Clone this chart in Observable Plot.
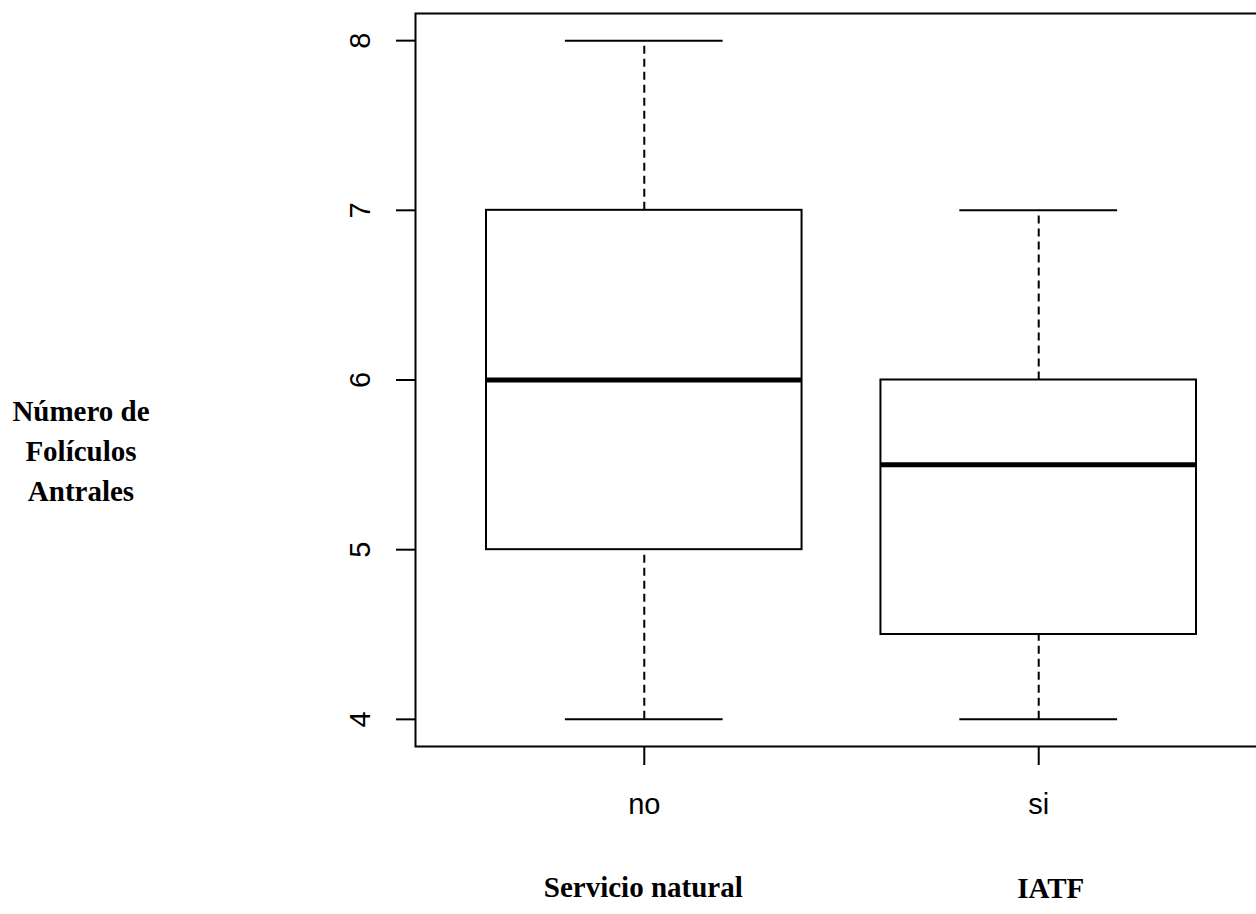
<!DOCTYPE html>
<html><head><meta charset="utf-8">
<script src="https://cdn.jsdelivr.net/npm/d3@7"></script>
<script src="https://cdn.jsdelivr.net/npm/@observablehq/plot@0.6"></script>
<style>
html,body{margin:0;padding:0;background:#fff;overflow:hidden;width:1256px;height:914px}
#wrap{position:relative;width:1256px;height:914px}
#ylab{position:absolute;left:0;top:391px;width:162px;text-align:center;font-family:"Liberation Serif","Times New Roman",serif;font-weight:bold;font-size:29px;line-height:40px;color:#000}
</style></head><body><div id="wrap"><div id="ylab">Número de<br>Folículos<br>Antrales</div></div>
<script>
const categories = ["no", "si"];
const groupLabels = ["Servicio natural", "IATF"];
const mins = [4, 4];
const q1s = [5, 4.5];
const medians = [6, 5.5];
const q3s = [7, 6];
const maxs = [8, 7];
const yTicks = [4, 5, 6, 7, 8];

const boxes = categories.map((c, i) => ({pos: i + 1, cat: c, group: groupLabels[i], min: mins[i], q1: q1s[i], median: medians[i], q3: q3s[i], max: maxs[i]}));
const boxHalf = 0.4, capHalf = 0.2;
const bx1 = d => d.pos - boxHalf, bx2 = d => d.pos + boxHalf;
const cx1 = d => d.pos - capHalf, cx2 = d => d.pos + capHalf;
const serif = '"Liberation Serif", "Times New Roman", serif';

const chart = Plot.plot({
  width: 1256, height: 914,
  marginLeft: 415, marginRight: -11, marginTop: 13, marginBottom: 168,
  style: {fontFamily: '"Liberation Sans", Arial, sans-serif', fontSize: "29px", color: "black", background: "white", overflow: "visible"},
  x: {domain: [0.42, 2.58]},
  y: {domain: [3.84, 8.16]},
  marks: [
    Plot.ruleX(boxes, {x: "pos", y1: "q3", y2: "max", stroke: "black", strokeWidth: 2, strokeDasharray: "8,5"}),
    Plot.ruleX(boxes, {x: "pos", y1: "min", y2: "q1", stroke: "black", strokeWidth: 2, strokeDasharray: "8,5"}),
    Plot.ruleY(boxes, {y: "max", x1: cx1, x2: cx2, stroke: "black", strokeWidth: 2}),
    Plot.ruleY(boxes, {y: "min", x1: cx1, x2: cx2, stroke: "black", strokeWidth: 2}),
    Plot.rect(boxes, {x1: bx1, x2: bx2, y1: "q1", y2: "q3", fill: "white", stroke: "black", strokeWidth: 2}),
    Plot.ruleY(boxes, {y: "median", x1: bx1, x2: bx2, stroke: "black", strokeWidth: 5}),
    Plot.frame({stroke: "black", strokeWidth: 2}),
    Plot.axisY({ticks: yTicks, label: null, tickSize: 19, tickRotate: -90, tickPadding: 36, textAnchor: "middle", lineAnchor: "middle", tickFormat: d => String(d), strokeWidth: 2, fontSize: 29}),
    Plot.axisX({ticks: [1, 2], label: null, tickSize: 19, tickPadding: 28, tickFormat: d => categories[d - 1], strokeWidth: 2, fontSize: 29}),
    Plot.text(boxes.slice(0, 1), {x: "pos", text: "group", frameAnchor: "bottom", dx: -1, dy: 150, fontFamily: serif, fontWeight: "bold", fontSize: 29, fill: "black"}),
    Plot.text(boxes.slice(1), {x: "pos", text: "group", frameAnchor: "bottom", dx: 12, dy: 151, fontFamily: serif, fontWeight: "bold", fontSize: 29, fill: "black"})
  ]
});
chart.style.position = "absolute";
chart.style.left = "0px";
chart.style.top = "0px";
chart.style.maxWidth = "none";
document.getElementById("wrap").prepend(chart);
</script>
</body></html>
